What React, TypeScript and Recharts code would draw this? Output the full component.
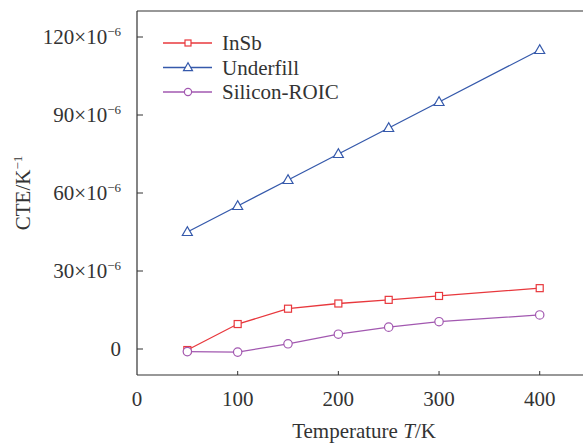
import React from "react";
import { LineChart, Line, XAxis, YAxis, ReferenceLine } from "recharts";

const temperatures = [50, 100, 150, 200, 250, 300, 400];
const inSb = [-0.4, 9.6, 15.5, 17.5, 18.9, 20.4, 23.4];
const underfill = [45, 55, 65, 75, 85, 95, 115];
const siliconRoic = [-1.0, -1.2, 2.0, 5.7, 8.4, 10.5, 13.1];
const xTicks = [0, 100, 200, 300, 400];
const yTicks = [0, 30, 60, 90, 120];

const data = temperatures.map((t, i) => ({
  t,
  inSb: inSb[i],
  underfill: underfill[i],
  siliconRoic: siliconRoic[i],
}));

const FONT = "'Liberation Serif', 'Times New Roman', serif";
const TEXT = "#333";
const AXIS = "#333";
const RED = "#e8383d";
const BLUE = "#3559ab";
const PURPLE = "#a258b0";

const Square = ({ cx, cy, color, size = 7 }: any) => (
  <rect x={cx - size / 2} y={cy - size / 2} width={size} height={size} fill="#fff" stroke={color} strokeWidth={1.2} />
);
const Triangle = ({ cx, cy, color, size = 10 }: any) => {
  const h = size * 0.87;
  return (
    <polygon
      points={`${cx},${cy - h * 0.6} ${cx - size / 2},${cy + h * 0.4} ${cx + size / 2},${cy + h * 0.4}`}
      fill="#fff"
      stroke={color}
      strokeWidth={1.2}
    />
  );
};
const Circle = ({ cx, cy, color, r = 4.2 }: any) => (
  <circle cx={cx} cy={cy} r={r} fill="#fff" stroke={color} strokeWidth={1.2} />
);

const YTick = (props: any) => {
  const { x, y, payload } = props;
  const v = payload.value;
  return (
    <g>
      <line x1={x} y1={y} x2={x + 6} y2={y} stroke={AXIS} strokeWidth={1} />
      <text x={x - 16} y={y + 7} textAnchor="end" fontFamily={FONT} fontSize={21} fill={TEXT}>
        {v === 0 ? (
          "0"
        ) : (
          <>
            <tspan>{`${v}×10`}</tspan>
            <tspan dy={-8} fontSize={13}>−6</tspan>
          </>
        )}
      </text>
    </g>
  );
};

const XTick = (props: any) => {
  const { x, y, payload } = props;
  return (
    <g>
      {payload.value !== 0 && <line x1={x} y1={y} x2={x} y2={y - 4} stroke={AXIS} strokeWidth={1} />}
      <text x={x} y={y + 31} textAnchor="middle" fontFamily={FONT} fontSize={21} fill={TEXT}>
        {payload.value}
      </text>
    </g>
  );
};

const XLabel = (props: any) => {
  const vb = props.viewBox || {};
  const cx = vb.x + vb.width / 2 + 4;
  return (
    <text x={cx} y={vb.y + 63} textAnchor="middle" fontFamily={FONT} fontSize={21} fill={TEXT}>
      <tspan>Temperature </tspan>
      <tspan fontStyle="italic">T</tspan>
      <tspan>/K</tspan>
    </text>
  );
};

const YLabel = (props: any) => {
  const vb = props.viewBox || {};
  const cy = vb.y + vb.height / 2;
  const x = 30;
  return (
    <text x={x} y={cy} transform={`rotate(-90, ${x}, ${cy})`} textAnchor="middle" fontFamily={FONT} fontSize={21} fill={TEXT}>
      <tspan>CTE/K</tspan>
      <tspan dy={-8} fontSize={13}>−1</tspan>
    </text>
  );
};

const legendItems = [
  { name: "InSb", color: RED, shape: "square" },
  { name: "Underfill", color: BLUE, shape: "triangle" },
  { name: "Silicon-ROIC", color: PURPLE, shape: "circle" },
];

const LegendBox = () => (
  <svg width={200} height={80} style={{ position: "absolute", left: 163, top: 31 }}>
    {legendItems.map((it, i) => {
      const cy = 12 + i * 24.5;
      return (
        <g key={it.name}>
          <line x1={0} y1={cy} x2={49} y2={cy} stroke={it.color} strokeWidth={1.3} />
          {it.shape === "square" && <Square cx={25} cy={cy} color={it.color} size={6} />}
          {it.shape === "triangle" && <Triangle cx={25} cy={cy} color={it.color} size={9} />}
          {it.shape === "circle" && <Circle cx={25} cy={cy} color={it.color} r={3.6} />}
          <text x={59} y={cy + 7} fontFamily={FONT} fontSize={21} fill={TEXT}>
            {it.name}
          </text>
        </g>
      );
    })}
  </svg>
);

export default function App() {
  return (
    <div style={{ position: "absolute", left: 0, top: 0, width: 583, height: 443, background: "#fff" }}>
      <LineChart width={583} height={443} data={data} margin={{ top: 11, right: 0, bottom: 0, left: 0 }}>
        <XAxis
          dataKey="t"
          type="number"
          domain={[0, 443]}
          ticks={xTicks}
          allowDataOverflow
          height={68}
          tickSize={0}
          tickMargin={0}
          tickLine={false}
          axisLine={{ stroke: AXIS, strokeWidth: 1.2 }}
          tick={<XTick />}
          label={<XLabel />}
        />
        <YAxis
          type="number"
          domain={[-10, 130]}
          ticks={yTicks}
          allowDataOverflow
          width={137}
          tickSize={0}
          tickMargin={0}
          tickLine={false}
          axisLine={{ stroke: AXIS, strokeWidth: 1.2 }}
          tick={<YTick />}
          label={<YLabel />}
        />
        <ReferenceLine y={130} stroke={AXIS} strokeWidth={1.2} />
        <Line
          dataKey="inSb"
          stroke={RED}
          strokeWidth={1.3}
          isAnimationActive={false}
          dot={(p: any) => <Square key={`s${p.index}`} cx={p.cx} cy={p.cy} color={RED} />}
          activeDot={false}
        />
        <Line
          dataKey="underfill"
          stroke={BLUE}
          strokeWidth={1.3}
          isAnimationActive={false}
          dot={(p: any) => <Triangle key={`t${p.index}`} cx={p.cx} cy={p.cy} color={BLUE} />}
          activeDot={false}
        />
        <Line
          dataKey="siliconRoic"
          stroke={PURPLE}
          strokeWidth={1.3}
          isAnimationActive={false}
          dot={(p: any) => <Circle key={`c${p.index}`} cx={p.cx} cy={p.cy} color={PURPLE} />}
          activeDot={false}
        />
      </LineChart>
      <LegendBox />
    </div>
  );
}
